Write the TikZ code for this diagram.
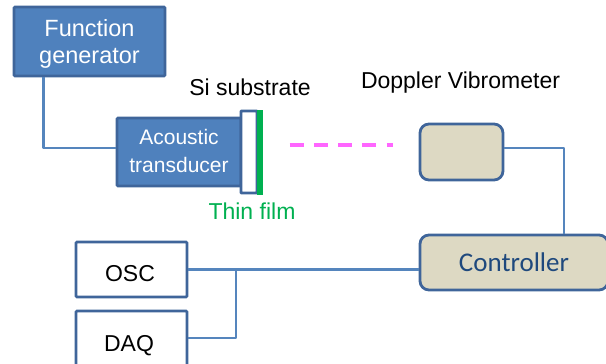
\documentclass[tikz,border=0pt]{standalone}
\usepackage{fontspec}
\setmainfont{Liberation Sans}
\newfontfamily\calib{Carlito}
\definecolor{bluefill}{HTML}{4F81BD}
\definecolor{blueedge}{HTML}{3F659A}
\definecolor{wire}{HTML}{5585BD}
\definecolor{tanfill}{HTML}{DDD9C3}
\definecolor{navy}{HTML}{1F497D}
\definecolor{filmgreen}{HTML}{00B050}
\definecolor{beam}{HTML}{FF66FF}
\newcommand{\shiftline}[2]{\raisebox{-#1}[16pt][5pt]{#2}}
\tikzset{
  x=1pt,y=-1pt,
  box/.style={draw=blueedge,line width=2.8pt,minimum width=#1,inner sep=0pt,align=center,rounded corners=1pt},
  bluebox/.style={box=#1,fill=bluefill,text=white},
  whitebox/.style={box=#1,fill=white,text=black,font=\fontsize{23}{27}\selectfont},
  tanbox/.style={box=#1,fill=tanfill,text=navy,rounded corners=9pt},
  wireline/.style={draw=wire,line width=2.8pt,line join=round},
  lbl/.style={inner sep=0pt,font=\fontsize{23}{27}\selectfont,anchor=base}
}
\begin{document}
\begin{tikzpicture}
\useasboundingbox (0,0) rectangle (606,364);
\clip (0,0) rectangle (606,364);
% nodes
\node[bluebox=151pt,minimum height=69pt,font=\fontsize{23.5}{27}\selectfont] (fg) at (89.5,41.5) {\shiftline{2.5pt}{Function}\\\shiftline{2.5pt}{generator}};
\node[bluebox=124pt,minimum height=68pt,font=\fontsize{21}{27.5}\selectfont] (at) at (179,152) {\shiftline{1pt}{Acoustic}\\\shiftline{1pt}{transducer}};
\node[box=16pt,minimum height=82pt,fill=white,rounded corners=0.5pt] (si) at (249,152) {};
\node[fill=filmgreen,minimum width=6.5pt,minimum height=85pt,inner sep=0pt] (film) at (260,152) {};
\node[whitebox=111pt,minimum height=55pt,text height=24pt,text depth=0pt,text width=107pt] (osc) at (131.5,269.5) {\hspace*{-3pt}OSC};
\node[whitebox=111pt,minimum height=64pt,text height=16pt,text depth=0pt,text width=107pt] (daq) at (131.5,343) {\hspace*{-5pt}DAQ};
\node[tanbox=83pt,minimum height=56pt] (dv) at (461.5,152) {};
\node[tanbox=188pt,minimum height=55pt,font=\calib\fontsize{27}{30}\selectfont] (ctl) at (514,262.5) {Controller};
% labels
\node[lbl] (silbl) at (250,95) {Si substrate};
\node[lbl] (dvlbl) at (460.5,88) {Doppler Vibrometer};
\node[lbl,text=filmgreen] (tf) at (252,219) {Thin film};
% beam
\coordinate (bs) at (289.5,145);
\coordinate (be) at (393,145);
\draw[beam,line width=3.6pt,dash pattern=on 14pt off 10.3pt] (bs) -- (be);
% connectors
\draw[wireline] ([xshift=30.5pt]fg.south west) |- ([yshift=4pt]at.west);
\draw[wireline] ([yshift=4pt]dv.east) -| ([xshift=50pt]ctl.north);
\draw[wireline] (osc.east) -- (ctl.west |- osc.east);
\coordinate (junc) at (236,269.5);
\draw[wireline] (junc) |- ([yshift=5pt]daq.east);
\end{tikzpicture}
\end{document}
